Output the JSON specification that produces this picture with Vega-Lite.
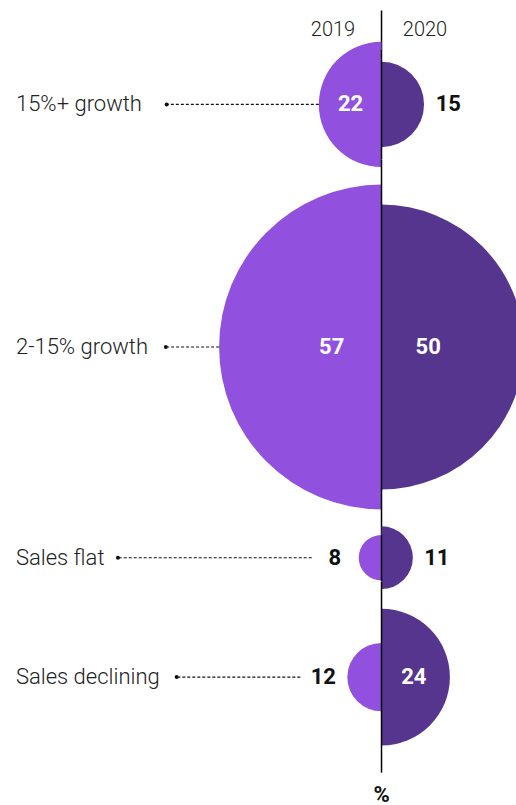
{
  "$schema": "https://vega.github.io/schema/vega-lite/v6.json",
  "padding": {"top": 9.5, "left": 0, "right": 0, "bottom": 0},
  "spacing": 0,
  "bounds": "flush",
  "config": {"view": {"stroke": null}, "font": "Roboto"},
  "data": {"values": [
    {"cat": "15%+ growth", "year": "2019", "value": 22},
    {"cat": "15%+ growth", "year": "2020", "value": 15},
    {"cat": "2-15% growth", "year": "2019", "value": 57},
    {"cat": "2-15% growth", "year": "2020", "value": 50},
    {"cat": "Sales flat", "year": "2019", "value": 8},
    {"cat": "Sales flat", "year": "2020", "value": 11},
    {"cat": "Sales declining", "year": "2019", "value": 12},
    {"cat": "Sales declining", "year": "2020", "value": 24}
  ]},
  "vconcat": [
    {
      "width": 516, "height": 39,
      "transform": [{"filter": "datum.cat === '15%+ growth'"}],
      "layer": [
        {"transform": [{"filter": "datum.year === '2019'"}], "mark": {"type": "text", "fontSize": 20, "fontWeight": 300, "color": "#222", "dx": -48.5}, "encoding": {"x": {"datum": 0, "type": "quantitative", "scale": {"domain": [-47.2, 133.9], "reverse": true, "zero": false, "nice": false}, "axis": null}, "text": {"field": "year"}}},
        {"transform": [{"filter": "datum.year === '2020'"}], "mark": {"type": "text", "fontSize": 20, "fontWeight": 300, "color": "#222", "dx": 43.5}, "encoding": {"x": {"datum": 0, "type": "quantitative", "scale": {"domain": [-47.2, 133.9], "reverse": true, "zero": false, "nice": false}, "axis": null}, "text": {"field": "year"}}},
        {"transform": [{"filter": "datum.year === '2019'"}], "mark": {"type": "rule", "color": "#000", "strokeWidth": 1.5}, "encoding": {"x": {"datum": 0, "type": "quantitative", "scale": {"domain": [-47.2, 133.9], "reverse": true, "zero": false, "nice": false}, "axis": null}}}
      ]
    },
    {
      "width": 516, "height": 109.8,
      "transform": [{"filter": "datum.cat === '15%+ growth'"}],
      "resolve": {"scale": {"radius": "independent"}},
      "layer": [
        {"transform": [{"filter": "datum.year === '2019'"}], "mark": {"type": "arc", "theta": 3.14159265, "theta2": 6.28318531, "color": "#9150DD"}, "encoding": {"x": {"datum": 0, "type": "quantitative", "scale": {"domain": [-47.2, 133.9], "reverse": true, "zero": false, "nice": false}, "axis": null}, "radius": {"field": "value", "type": "quantitative", "scale": {"type": "linear", "domain": [0, 100], "range": [0, 284.93], "zero": true}}}},
        {"transform": [{"filter": "datum.year === '2020'"}], "mark": {"type": "arc", "theta": 0, "theta2": 3.14159265, "color": "#56358F"}, "encoding": {"x": {"datum": 0, "type": "quantitative", "scale": {"domain": [-47.2, 133.9], "reverse": true, "zero": false, "nice": false}, "axis": null}, "radius": {"field": "value", "type": "quantitative", "scale": {"type": "linear", "domain": [0, 100], "range": [0, 284.93], "zero": true}}}},
        {"transform": [{"filter": "datum.year === '2019' && datum.value >= 20"}], "mark": {"type": "rule", "color": "#111", "strokeDash": [3, 2], "strokeWidth": 1.1}, "encoding": {"x": {"field": "value", "type": "quantitative", "scale": {"domain": [-47.2, 133.9], "reverse": true, "zero": false, "nice": false}, "axis": null}, "x2": {"datum": 75.4}}},
        {"transform": [{"filter": "datum.year === '2019' && datum.value < 20"}], "mark": {"type": "rule", "color": "#111", "strokeDash": [3, 2], "strokeWidth": 1.1, "xOffset": -47}, "encoding": {"x": {"field": "value", "type": "quantitative", "scale": {"domain": [-47.2, 133.9], "reverse": true, "zero": false, "nice": false}, "axis": null}, "x2": {"datum": 75.4}}},
        {"transform": [{"filter": "datum.year === '2019'"}], "mark": {"type": "point", "filled": true, "color": "#111", "size": 16, "opacity": 1}, "encoding": {"x": {"datum": 75.4, "type": "quantitative", "scale": {"domain": [-47.2, 133.9], "reverse": true, "zero": false, "nice": false}, "axis": null}}},
        {"transform": [{"filter": "datum.year === '2019'"}], "mark": {"type": "text", "align": "left", "fontSize": 22, "fontWeight": 300, "color": "#222"}, "encoding": {"x": {"datum": 128.3, "type": "quantitative", "scale": {"domain": [-47.2, 133.9], "reverse": true, "zero": false, "nice": false}, "axis": null}, "text": {"field": "cat"}}},
        {"transform": [{"filter": "datum.year === '2019' && datum.value >= 20"}], "mark": {"type": "text", "theta": 4.71238898, "fontSize": 22, "fontWeight": "bold", "color": "#fff"}, "encoding": {"x": {"datum": 0, "type": "quantitative", "scale": {"domain": [-47.2, 133.9], "reverse": true, "zero": false, "nice": false}, "axis": null}, "radius": {"field": "value", "type": "quantitative", "scale": {"type": "sqrt", "domain": [0, 100], "range": [0, 66], "zero": true}}, "text": {"field": "value"}}},
        {"transform": [{"filter": "datum.year === '2020' && datum.value >= 20"}], "mark": {"type": "text", "theta": 1.57079633, "fontSize": 22, "fontWeight": "bold", "color": "#fff"}, "encoding": {"x": {"datum": 0, "type": "quantitative", "scale": {"domain": [-47.2, 133.9], "reverse": true, "zero": false, "nice": false}, "axis": null}, "radius": {"field": "value", "type": "quantitative", "scale": {"type": "sqrt", "domain": [0, 100], "range": [0, 66], "zero": true}}, "text": {"field": "value"}}},
        {"transform": [{"filter": "datum.year === '2019' && datum.value < 20"}], "mark": {"type": "text", "theta": 4.71238898, "dx": -24, "fontSize": 22, "fontWeight": "bold", "color": "#111"}, "encoding": {"x": {"datum": 0, "type": "quantitative", "scale": {"domain": [-47.2, 133.9], "reverse": true, "zero": false, "nice": false}, "axis": null}, "radius": {"field": "value", "type": "quantitative", "scale": {"type": "linear", "domain": [0, 100], "range": [0, 284.93], "zero": true}}, "text": {"field": "value"}}},
        {"transform": [{"filter": "datum.year === '2020' && datum.value < 20"}], "mark": {"type": "text", "theta": 1.57079633, "dx": 24, "fontSize": 22, "fontWeight": "bold", "color": "#111"}, "encoding": {"x": {"datum": 0, "type": "quantitative", "scale": {"domain": [-47.2, 133.9], "reverse": true, "zero": false, "nice": false}, "axis": null}, "radius": {"field": "value", "type": "quantitative", "scale": {"type": "linear", "domain": [0, 100], "range": [0, 284.93], "zero": true}}, "text": {"field": "value"}}},
        {"transform": [{"filter": "datum.year === '2019'"}], "mark": {"type": "rule", "color": "#000", "strokeWidth": 1.5}, "encoding": {"x": {"datum": 0, "type": "quantitative", "scale": {"domain": [-47.2, 133.9], "reverse": true, "zero": false, "nice": false}, "axis": null}}}
      ]
    },
    {
      "width": 516, "height": 375,
      "transform": [{"filter": "datum.cat === '2-15% growth'"}],
      "resolve": {"scale": {"radius": "independent"}},
      "layer": [
        {"transform": [{"filter": "datum.year === '2019'"}], "mark": {"type": "arc", "theta": 3.14159265, "theta2": 6.28318531, "color": "#9150DD", "clip": true}, "encoding": {"x": {"datum": 0, "type": "quantitative", "scale": {"domain": [-47.2, 133.9], "reverse": true, "zero": false, "nice": false}, "axis": null}, "radius": {"field": "value", "type": "quantitative", "scale": {"type": "linear", "domain": [0, 100], "range": [0, 284.93], "zero": true}}}},
        {"transform": [{"filter": "datum.year === '2020'"}], "mark": {"type": "arc", "theta": 0, "theta2": 3.14159265, "color": "#56358F", "clip": true}, "encoding": {"x": {"datum": 0, "type": "quantitative", "scale": {"domain": [-47.2, 133.9], "reverse": true, "zero": false, "nice": false}, "axis": null}, "radius": {"field": "value", "type": "quantitative", "scale": {"type": "linear", "domain": [0, 100], "range": [0, 284.93], "zero": true}}}},
        {"transform": [{"filter": "datum.year === '2019' && datum.value >= 20"}], "mark": {"type": "rule", "color": "#111", "strokeDash": [3, 2], "strokeWidth": 1.1}, "encoding": {"x": {"field": "value", "type": "quantitative", "scale": {"domain": [-47.2, 133.9], "reverse": true, "zero": false, "nice": false}, "axis": null}, "x2": {"datum": 75.7}}},
        {"transform": [{"filter": "datum.year === '2019' && datum.value < 20"}], "mark": {"type": "rule", "color": "#111", "strokeDash": [3, 2], "strokeWidth": 1.1, "xOffset": -47}, "encoding": {"x": {"field": "value", "type": "quantitative", "scale": {"domain": [-47.2, 133.9], "reverse": true, "zero": false, "nice": false}, "axis": null}, "x2": {"datum": 75.7}}},
        {"transform": [{"filter": "datum.year === '2019'"}], "mark": {"type": "point", "filled": true, "color": "#111", "size": 16, "opacity": 1}, "encoding": {"x": {"datum": 75.7, "type": "quantitative", "scale": {"domain": [-47.2, 133.9], "reverse": true, "zero": false, "nice": false}, "axis": null}}},
        {"transform": [{"filter": "datum.year === '2019'"}], "mark": {"type": "text", "align": "left", "fontSize": 22, "fontWeight": 300, "color": "#222"}, "encoding": {"x": {"datum": 128.3, "type": "quantitative", "scale": {"domain": [-47.2, 133.9], "reverse": true, "zero": false, "nice": false}, "axis": null}, "text": {"field": "cat"}}},
        {"transform": [{"filter": "datum.year === '2019' && datum.value >= 20"}], "mark": {"type": "text", "theta": 4.71238898, "fontSize": 22, "fontWeight": "bold", "color": "#fff"}, "encoding": {"x": {"datum": 0, "type": "quantitative", "scale": {"domain": [-47.2, 133.9], "reverse": true, "zero": false, "nice": false}, "axis": null}, "radius": {"field": "value", "type": "quantitative", "scale": {"type": "sqrt", "domain": [0, 100], "range": [0, 66], "zero": true}}, "text": {"field": "value"}}},
        {"transform": [{"filter": "datum.year === '2020' && datum.value >= 20"}], "mark": {"type": "text", "theta": 1.57079633, "fontSize": 22, "fontWeight": "bold", "color": "#fff"}, "encoding": {"x": {"datum": 0, "type": "quantitative", "scale": {"domain": [-47.2, 133.9], "reverse": true, "zero": false, "nice": false}, "axis": null}, "radius": {"field": "value", "type": "quantitative", "scale": {"type": "sqrt", "domain": [0, 100], "range": [0, 66], "zero": true}}, "text": {"field": "value"}}},
        {"transform": [{"filter": "datum.year === '2019' && datum.value < 20"}], "mark": {"type": "text", "theta": 4.71238898, "dx": -24, "fontSize": 22, "fontWeight": "bold", "color": "#111"}, "encoding": {"x": {"datum": 0, "type": "quantitative", "scale": {"domain": [-47.2, 133.9], "reverse": true, "zero": false, "nice": false}, "axis": null}, "radius": {"field": "value", "type": "quantitative", "scale": {"type": "linear", "domain": [0, 100], "range": [0, 284.93], "zero": true}}, "text": {"field": "value"}}},
        {"transform": [{"filter": "datum.year === '2020' && datum.value < 20"}], "mark": {"type": "text", "theta": 1.57079633, "dx": 24, "fontSize": 22, "fontWeight": "bold", "color": "#111"}, "encoding": {"x": {"datum": 0, "type": "quantitative", "scale": {"domain": [-47.2, 133.9], "reverse": true, "zero": false, "nice": false}, "axis": null}, "radius": {"field": "value", "type": "quantitative", "scale": {"type": "linear", "domain": [0, 100], "range": [0, 284.93], "zero": true}}, "text": {"field": "value"}}},
        {"transform": [{"filter": "datum.year === '2019'"}], "mark": {"type": "rule", "color": "#000", "strokeWidth": 1.5}, "encoding": {"x": {"datum": 0, "type": "quantitative", "scale": {"domain": [-47.2, 133.9], "reverse": true, "zero": false, "nice": false}, "axis": null}}}
      ]
    },
    {
      "width": 516, "height": 46.4,
      "transform": [{"filter": "datum.cat === 'Sales flat'"}],
      "resolve": {"scale": {"radius": "independent"}},
      "layer": [
        {"transform": [{"filter": "datum.year === '2019'"}], "mark": {"type": "arc", "theta": 3.14159265, "theta2": 6.28318531, "color": "#9150DD"}, "encoding": {"x": {"datum": 0, "type": "quantitative", "scale": {"domain": [-47.2, 133.9], "reverse": true, "zero": false, "nice": false}, "axis": null}, "radius": {"field": "value", "type": "quantitative", "scale": {"type": "linear", "domain": [0, 100], "range": [0, 284.93], "zero": true}}}},
        {"transform": [{"filter": "datum.year === '2020'"}], "mark": {"type": "arc", "theta": 0, "theta2": 3.14159265, "color": "#56358F"}, "encoding": {"x": {"datum": 0, "type": "quantitative", "scale": {"domain": [-47.2, 133.9], "reverse": true, "zero": false, "nice": false}, "axis": null}, "radius": {"field": "value", "type": "quantitative", "scale": {"type": "linear", "domain": [0, 100], "range": [0, 284.93], "zero": true}}}},
        {"transform": [{"filter": "datum.year === '2019' && datum.value >= 20"}], "mark": {"type": "rule", "color": "#111", "strokeDash": [3, 2], "strokeWidth": 1.1}, "encoding": {"x": {"field": "value", "type": "quantitative", "scale": {"domain": [-47.2, 133.9], "reverse": true, "zero": false, "nice": false}, "axis": null}, "x2": {"datum": 92.5}}},
        {"transform": [{"filter": "datum.year === '2019' && datum.value < 20"}], "mark": {"type": "rule", "color": "#111", "strokeDash": [3, 2], "strokeWidth": 1.1, "xOffset": -47}, "encoding": {"x": {"field": "value", "type": "quantitative", "scale": {"domain": [-47.2, 133.9], "reverse": true, "zero": false, "nice": false}, "axis": null}, "x2": {"datum": 92.5}}},
        {"transform": [{"filter": "datum.year === '2019'"}], "mark": {"type": "point", "filled": true, "color": "#111", "size": 16, "opacity": 1}, "encoding": {"x": {"datum": 92.5, "type": "quantitative", "scale": {"domain": [-47.2, 133.9], "reverse": true, "zero": false, "nice": false}, "axis": null}}},
        {"transform": [{"filter": "datum.year === '2019'"}], "mark": {"type": "text", "align": "left", "fontSize": 22, "fontWeight": 300, "color": "#222"}, "encoding": {"x": {"datum": 128.3, "type": "quantitative", "scale": {"domain": [-47.2, 133.9], "reverse": true, "zero": false, "nice": false}, "axis": null}, "text": {"field": "cat"}}},
        {"transform": [{"filter": "datum.year === '2019' && datum.value >= 20"}], "mark": {"type": "text", "theta": 4.71238898, "fontSize": 22, "fontWeight": "bold", "color": "#fff"}, "encoding": {"x": {"datum": 0, "type": "quantitative", "scale": {"domain": [-47.2, 133.9], "reverse": true, "zero": false, "nice": false}, "axis": null}, "radius": {"field": "value", "type": "quantitative", "scale": {"type": "sqrt", "domain": [0, 100], "range": [0, 66], "zero": true}}, "text": {"field": "value"}}},
        {"transform": [{"filter": "datum.year === '2020' && datum.value >= 20"}], "mark": {"type": "text", "theta": 1.57079633, "fontSize": 22, "fontWeight": "bold", "color": "#fff"}, "encoding": {"x": {"datum": 0, "type": "quantitative", "scale": {"domain": [-47.2, 133.9], "reverse": true, "zero": false, "nice": false}, "axis": null}, "radius": {"field": "value", "type": "quantitative", "scale": {"type": "sqrt", "domain": [0, 100], "range": [0, 66], "zero": true}}, "text": {"field": "value"}}},
        {"transform": [{"filter": "datum.year === '2019' && datum.value < 20"}], "mark": {"type": "text", "theta": 4.71238898, "dx": -24, "fontSize": 22, "fontWeight": "bold", "color": "#111"}, "encoding": {"x": {"datum": 0, "type": "quantitative", "scale": {"domain": [-47.2, 133.9], "reverse": true, "zero": false, "nice": false}, "axis": null}, "radius": {"field": "value", "type": "quantitative", "scale": {"type": "linear", "domain": [0, 100], "range": [0, 284.93], "zero": true}}, "text": {"field": "value"}}},
        {"transform": [{"filter": "datum.year === '2020' && datum.value < 20"}], "mark": {"type": "text", "theta": 1.57079633, "dx": 24, "fontSize": 22, "fontWeight": "bold", "color": "#111"}, "encoding": {"x": {"datum": 0, "type": "quantitative", "scale": {"domain": [-47.2, 133.9], "reverse": true, "zero": false, "nice": false}, "axis": null}, "radius": {"field": "value", "type": "quantitative", "scale": {"type": "linear", "domain": [0, 100], "range": [0, 284.93], "zero": true}}, "text": {"field": "value"}}},
        {"transform": [{"filter": "datum.year === '2019'"}], "mark": {"type": "rule", "color": "#000", "strokeWidth": 1.5}, "encoding": {"x": {"datum": 0, "type": "quantitative", "scale": {"domain": [-47.2, 133.9], "reverse": true, "zero": false, "nice": false}, "axis": null}}}
      ]
    },
    {
      "width": 516, "height": 191.2,
      "transform": [{"filter": "datum.cat === 'Sales declining'"}],
      "resolve": {"scale": {"radius": "independent"}},
      "layer": [
        {"transform": [{"filter": "datum.year === '2019'"}], "mark": {"type": "arc", "theta": 3.14159265, "theta2": 6.28318531, "color": "#9150DD"}, "encoding": {"x": {"datum": 0, "type": "quantitative", "scale": {"domain": [-47.2, 133.9], "reverse": true, "zero": false, "nice": false}, "axis": null}, "radius": {"field": "value", "type": "quantitative", "scale": {"type": "linear", "domain": [0, 100], "range": [0, 284.93], "zero": true}}}},
        {"transform": [{"filter": "datum.year === '2020'"}], "mark": {"type": "arc", "theta": 0, "theta2": 3.14159265, "color": "#56358F"}, "encoding": {"x": {"datum": 0, "type": "quantitative", "scale": {"domain": [-47.2, 133.9], "reverse": true, "zero": false, "nice": false}, "axis": null}, "radius": {"field": "value", "type": "quantitative", "scale": {"type": "linear", "domain": [0, 100], "range": [0, 284.93], "zero": true}}}},
        {"transform": [{"filter": "datum.year === '2019' && datum.value >= 20"}], "mark": {"type": "rule", "color": "#111", "strokeDash": [3, 2], "strokeWidth": 1.1}, "encoding": {"x": {"field": "value", "type": "quantitative", "scale": {"domain": [-47.2, 133.9], "reverse": true, "zero": false, "nice": false}, "axis": null}, "x2": {"datum": 71.9}}},
        {"transform": [{"filter": "datum.year === '2019' && datum.value < 20"}], "mark": {"type": "rule", "color": "#111", "strokeDash": [3, 2], "strokeWidth": 1.1, "xOffset": -47}, "encoding": {"x": {"field": "value", "type": "quantitative", "scale": {"domain": [-47.2, 133.9], "reverse": true, "zero": false, "nice": false}, "axis": null}, "x2": {"datum": 71.9}}},
        {"transform": [{"filter": "datum.year === '2019'"}], "mark": {"type": "point", "filled": true, "color": "#111", "size": 16, "opacity": 1}, "encoding": {"x": {"datum": 71.9, "type": "quantitative", "scale": {"domain": [-47.2, 133.9], "reverse": true, "zero": false, "nice": false}, "axis": null}}},
        {"transform": [{"filter": "datum.year === '2019'"}], "mark": {"type": "text", "align": "left", "fontSize": 22, "fontWeight": 300, "color": "#222"}, "encoding": {"x": {"datum": 128.3, "type": "quantitative", "scale": {"domain": [-47.2, 133.9], "reverse": true, "zero": false, "nice": false}, "axis": null}, "text": {"field": "cat"}}},
        {"transform": [{"filter": "datum.year === '2019' && datum.value >= 20"}], "mark": {"type": "text", "theta": 4.71238898, "fontSize": 22, "fontWeight": "bold", "color": "#fff"}, "encoding": {"x": {"datum": 0, "type": "quantitative", "scale": {"domain": [-47.2, 133.9], "reverse": true, "zero": false, "nice": false}, "axis": null}, "radius": {"field": "value", "type": "quantitative", "scale": {"type": "sqrt", "domain": [0, 100], "range": [0, 66], "zero": true}}, "text": {"field": "value"}}},
        {"transform": [{"filter": "datum.year === '2020' && datum.value >= 20"}], "mark": {"type": "text", "theta": 1.57079633, "fontSize": 22, "fontWeight": "bold", "color": "#fff"}, "encoding": {"x": {"datum": 0, "type": "quantitative", "scale": {"domain": [-47.2, 133.9], "reverse": true, "zero": false, "nice": false}, "axis": null}, "radius": {"field": "value", "type": "quantitative", "scale": {"type": "sqrt", "domain": [0, 100], "range": [0, 66], "zero": true}}, "text": {"field": "value"}}},
        {"transform": [{"filter": "datum.year === '2019' && datum.value < 20"}], "mark": {"type": "text", "theta": 4.71238898, "dx": -24, "fontSize": 22, "fontWeight": "bold", "color": "#111"}, "encoding": {"x": {"datum": 0, "type": "quantitative", "scale": {"domain": [-47.2, 133.9], "reverse": true, "zero": false, "nice": false}, "axis": null}, "radius": {"field": "value", "type": "quantitative", "scale": {"type": "linear", "domain": [0, 100], "range": [0, 284.93], "zero": true}}, "text": {"field": "value"}}},
        {"transform": [{"filter": "datum.year === '2020' && datum.value < 20"}], "mark": {"type": "text", "theta": 1.57079633, "dx": 24, "fontSize": 22, "fontWeight": "bold", "color": "#111"}, "encoding": {"x": {"datum": 0, "type": "quantitative", "scale": {"domain": [-47.2, 133.9], "reverse": true, "zero": false, "nice": false}, "axis": null}, "radius": {"field": "value", "type": "quantitative", "scale": {"type": "linear", "domain": [0, 100], "range": [0, 284.93], "zero": true}}, "text": {"field": "value"}}},
        {"transform": [{"filter": "datum.year === '2019'"}], "mark": {"type": "rule", "color": "#000", "strokeWidth": 1.5}, "encoding": {"x": {"datum": 0, "type": "quantitative", "scale": {"domain": [-47.2, 133.9], "reverse": true, "zero": false, "nice": false}, "axis": null}}}
      ]
    },
    {
      "width": 516, "height": 34.1,
      "data": {"values": [{"unit": "%"}]},
      "layer": [
        {"mark": {"type": "text", "fontSize": 22, "fontWeight": "bold", "color": "#111", "dy": 4}, "encoding": {"x": {"datum": 0, "type": "quantitative", "scale": {"domain": [-47.2, 133.9], "reverse": true, "zero": false, "nice": false}, "axis": null}, "text": {"field": "unit"}}}
      ]
    }
  ]
}
